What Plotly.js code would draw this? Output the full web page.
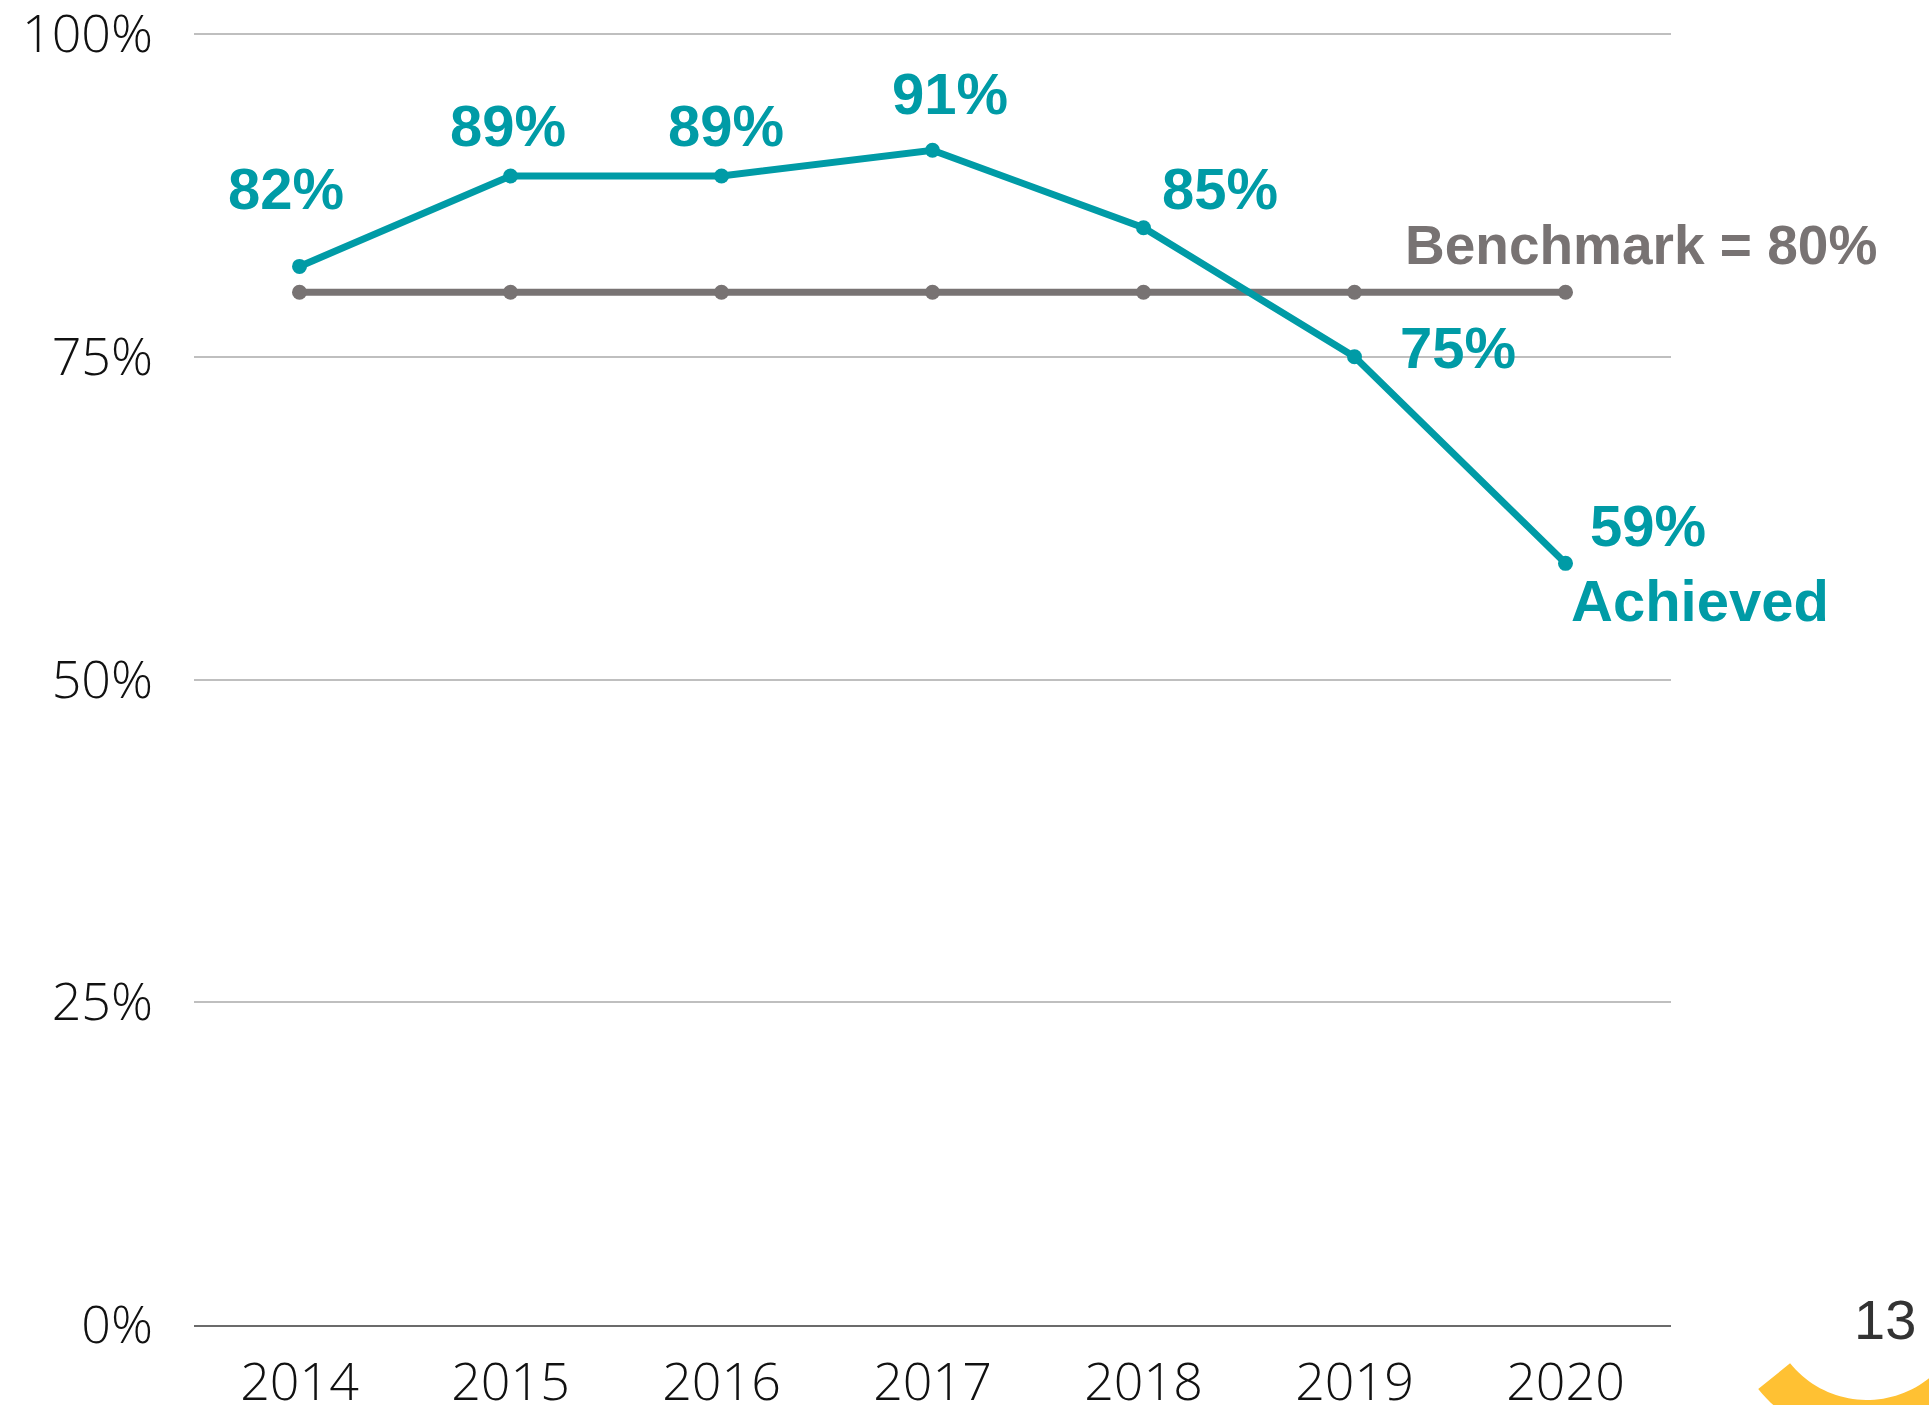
<!DOCTYPE html>
<html>
<head>
<meta charset="utf-8">
<script src="https://cdn.plot.ly/plotly-3.0.1.min.js"></script>
<style>
html,body{margin:0;padding:0;background:#fff;}
#chart{width:1929px;height:1405px;}
</style>
</head>
<body>
<div id="chart"></div>
<script>
// ---- data ----
var years = ['2014','2015','2016','2017','2018','2019','2020'];
var achieved = [0.82, 0.89, 0.89, 0.91, 0.85, 0.75, 0.59];
var benchmark = [0.80, 0.80, 0.80, 0.80, 0.80, 0.80, 0.80];
var yTicks = [0, 0.25, 0.5, 0.75, 1.0];
var benchmarkLabel = 'Benchmark = 80%';
var achievedLabel = 'Achieved';
var pageNumber = '13';

// ---- styling ----
var TEAL = '#009BA6';
var GREY = '#787373';
// label offsets (px) relative to each point
var labelShift = [[-14,78],[-3,51],[4,51],[17,57],[76,39],[103,9],[82,38]];

var traces = [
  {x: years, y: benchmark, type: 'scatter', mode: 'lines+markers',
   line: {color: GREY, width: 7}, marker: {color: GREY, size: 15},
   hoverinfo: 'skip', showlegend: false, cliponaxis: false},
  {x: years, y: achieved, type: 'scatter', mode: 'lines+markers',
   line: {color: TEAL, width: 7}, marker: {color: TEAL, size: 15},
   hoverinfo: 'skip', showlegend: false, cliponaxis: false}
];

function labelFont(){ return {family: '"Liberation Sans", Arial, sans-serif', size: 58, color: TEAL, weight: 'bold'}; }
var annotations = achieved.map(function(v, i){
  return {x: i, y: v, xref: 'x', yref: 'y', text: Math.round(v*100) + '%',
    showarrow: false, font: labelFont(), xanchor: 'center', yanchor: 'middle',
    xshift: labelShift[i][0], yshift: labelShift[i][1]};
});
var last = achieved.length - 1;
annotations.push({x: last, y: achieved[last], xref: 'x', yref: 'y', text: achievedLabel,
  showarrow: false, font: labelFont(), xanchor: 'center', yanchor: 'middle', xshift: 134, yshift: -37});
annotations.push({x: last, y: benchmark[last], xref: 'x', yref: 'y', text: benchmarkLabel,
  showarrow: false, font: {family: '"Liberation Sans", Arial, sans-serif', size: 55, color: GREY, weight: 'bold'},
  xanchor: 'center', yanchor: 'middle', xshift: 75, yshift: 47});

// page number and decorative arc (paper coords)
var L = 194, R = 1671, T = 33, B = 1325;
function px(x){ return (x - L) / (R - L); }
function py(y){ return (B - y) / (B - T); }
annotations.push({xref: 'paper', yref: 'paper', x: px(1885), y: py(1319), text: pageNumber,
  showarrow: false, xanchor: 'center', yanchor: 'middle',
  font: {family: '"Liberation Sans", Arial, sans-serif', size: 56, color: '#333333'}});

var cx = 1867, cy = 1301, rIn = 99, rOut = 140;
var pts = [];
var a0 = 141, a1 = -10, n = 60, k, a;
for (k = 0; k <= n; k++) { a = (a0 + (a1 - a0) * k / n) * Math.PI / 180; pts.push([cx + rOut*Math.cos(a), cy + rOut*Math.sin(a)]); }
for (k = n; k >= 0; k--) { a = (a0 + (a1 - a0) * k / n) * Math.PI / 180; pts.push([cx + rIn*Math.cos(a), cy + rIn*Math.sin(a)]); }
var path = pts.map(function(p, i){ return (i ? 'L' : 'M') + px(p[0]).toFixed(5) + ',' + py(p[1]).toFixed(5); }).join(' ') + ' Z';

var tickFont = {family: '"Open Sans", sans-serif', size: 52, color: '#111111', weight: 300};

var layout = {
  width: 1929, height: 1405,
  margin: {l: L, r: 1929 - R, t: T, b: 1405 - B, pad: 0},
  paper_bgcolor: '#ffffff', plot_bgcolor: '#ffffff',
  showlegend: false,
  xaxis: {type: 'category', range: [-0.5, 6.5], showgrid: false, zeroline: false,
    showline: true, linecolor: '#6b6b6b', linewidth: 2, ticks: '', tickfont: tickFont,
    ticklabelstandoff: 11, ticklabeloverflow: 'allow', fixedrange: true},
  yaxis: {range: [0, 1.0008], tickvals: yTicks, tickformat: '.0%', showgrid: true,
    gridcolor: '#bfbfbf', gridwidth: 2, zeroline: false, showline: false, ticks: '',
    tickfont: tickFont, ticklabelstandoff: 40, ticklabeloverflow: 'allow', fixedrange: true},
  annotations: annotations,
  shapes: [{type: 'path', xref: 'paper', yref: 'paper', path: path,
    fillcolor: '#FFC133', line: {width: 0}, layer: 'above'}]
};

Plotly.newPlot('chart', traces, layout, {displayModeBar: false, staticPlot: true});
</script>
</body>
</html>
